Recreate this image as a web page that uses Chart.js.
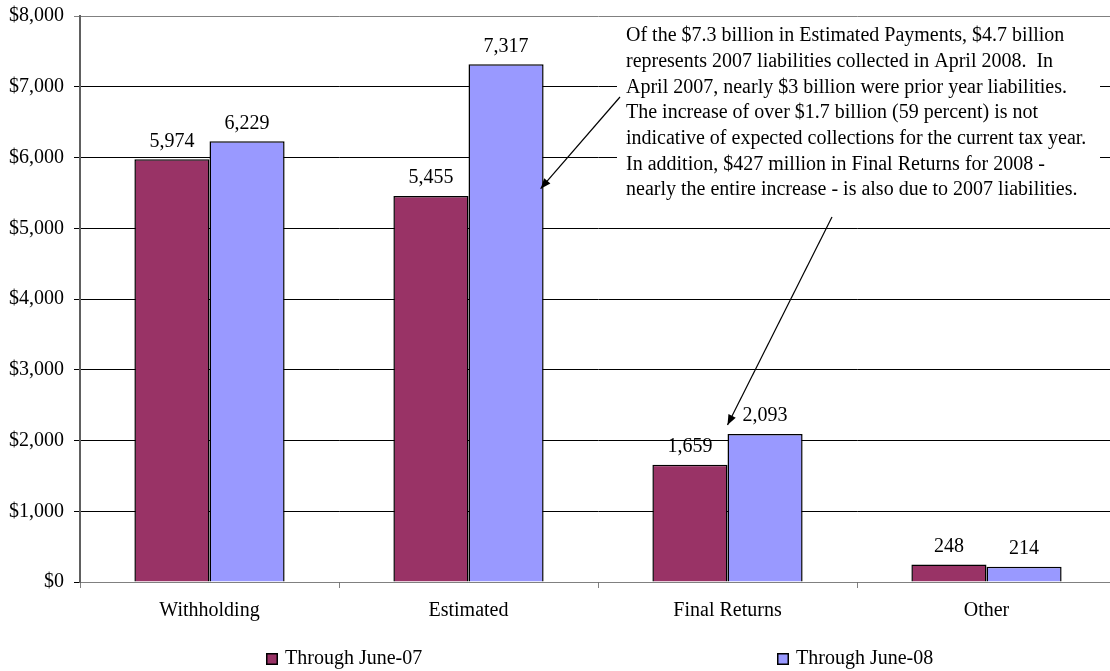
<!DOCTYPE html>
<html lang="en">
<head>
<meta charset="UTF-8">
<title>Withholding, Estimated, Final Returns, Other</title>
<script src="https://cdn.jsdelivr.net/npm/chart.js"></script>
<style>
  html, body { margin: 0; padding: 0; background: #fff; overflow: hidden; }
  #wrap { width: 1116px; height: 671px; }
</style>
</head>
<body>
<div id="wrap"><canvas id="myChart" width="1116" height="671"></canvas></div>
<script>
// data
const categories = ['Withholding', 'Estimated', 'Final Returns', 'Other'];
const june07 = [5974, 5455, 1659, 248];
const june08 = [6229, 7317, 2093, 214];
const seriesNames = ['Through June-07', 'Through June-08'];
const yTicks = [0, 1000, 2000, 3000, 4000, 5000, 6000, 7000, 8000];
const noteLines = [
  'Of the $7.3 billion in Estimated Payments, $4.7 billion',
  'represents 2007 liabilities collected in April 2008.  In',
  'April 2007, nearly $3 billion were prior year liabilities.',
  'The increase of over $1.7 billion (59 percent) is not',
  'indicative of expected collections for the current tax year.',
  'In addition, $427 million in Final Returns for 2008 -',
  'nearly the entire increase - is also due to 2007 liabilities.'
];

const serif = '"Liberation Serif", "Times New Roman", serif';
const colors = ['#993366', '#9999FF'];

function fmt(v) {
  return v.toLocaleString('en-US');
}

function arrow(ctx, x1, y1, x2, y2) {
  ctx.beginPath();
  ctx.moveTo(x1, y1);
  ctx.lineTo(x2, y2);
  ctx.stroke();
  const a = Math.atan2(y2 - y1, x2 - x1);
  const len = 11, w = 0.38;
  ctx.beginPath();
  ctx.moveTo(x2, y2);
  ctx.lineTo(x2 - len * Math.cos(a - w), y2 - len * Math.sin(a - w));
  ctx.lineTo(x2 - len * Math.cos(a + w), y2 - len * Math.sin(a + w));
  ctx.closePath();
  ctx.fill();
}

// value labels, note box, arrows and legend
const extras = {
  id: 'extras',
  afterDatasetsDraw(chart) {
    const ctx = chart.ctx;
    ctx.save();
    ctx.fillStyle = '#000';
    ctx.font = '20px ' + serif;
    ctx.textAlign = 'center';
    ctx.textBaseline = 'middle';
    chart.data.datasets.forEach((ds, i) => {
      chart.getDatasetMeta(i).data.forEach((bar, j) => {
        ctx.fillText(fmt(ds.data[j]), bar.x, bar.y - 18);
      });
    });

    // note box (white, covers gridlines)
    ctx.fillStyle = '#fff';
    ctx.fillRect(617, 22, 483, 190);
    ctx.fillStyle = '#000';
    ctx.textAlign = 'left';
    noteLines.forEach((t, k) => {
      ctx.fillText(t, 626, 36 + k * 25.7);
    });

    // arrows pointing at the Estimated and Final Returns bars
    const y = chart.scales.y;
    const m1 = chart.getDatasetMeta(1).data;
    ctx.strokeStyle = '#000';
    ctx.lineWidth = 1.2;
    arrow(ctx, 620, 97, m1[1].x + m1[1].width / 2 - 3, y.getPixelForValue(5560));
    arrow(ctx, 832, 217, m1[2].x - m1[2].width / 2, y.getPixelForValue(2220));

    // legend
    const lx = [266, 777];
    seriesNames.forEach((name, k) => {
      ctx.fillStyle = colors[k];
      ctx.fillRect(lx[k], 653, 12, 12);
      ctx.strokeStyle = '#000';
      ctx.lineWidth = 1.5;
      ctx.strokeRect(lx[k] + 0.75, 653.75, 10.5, 10.5);
      ctx.fillStyle = '#000';
      ctx.fillText(name, lx[k] + 19, 659);
    });
    ctx.restore();
  }
};

const data = {
  labels: categories,
  datasets: [
    { label: seriesNames[0], data: june07, backgroundColor: colors[0], borderColor: '#000', borderWidth: 1.5 },
    { label: seriesNames[1], data: june08, backgroundColor: colors[1], borderColor: '#000', borderWidth: 1.5 }
  ]
};

const config = {
  type: 'bar',
  data: data,
  plugins: [extras],
  options: {
    responsive: false,
    animation: false,
    categoryPercentage: 0.58,
    barPercentage: 1.0,
    layout: { padding: { top: 16, right: 0, left: 0, bottom: 0 } },
    plugins: {
      legend: { display: false },
      tooltip: { enabled: false }
    },
    scales: {
      x: {
        afterFit(s) { s.height = 89; s.paddingLeft = 0; s.paddingRight = 0; },
        grid: {
          offset: true,
          drawOnChartArea: false,
          tickLength: 6,
          color: '#808080'
        },
        border: { color: '#808080', width: 1 },
        ticks: {
          color: '#000',
          font: { family: serif, size: 20 },
          padding: 11
        }
      },
      y: {
        min: 0,
        max: 8000,
        afterFit(s) { s.width = 80; s.paddingTop = 0; s.paddingBottom = 0; },
        afterBuildTicks(s) { s.ticks = yTicks.map(v => ({ value: v })); },
        grid: {
          color: ctx => (ctx.tick && ctx.tick.value === 8000 ? '#808080' : '#000'),
          tickLength: 6,
          lineWidth: 1
        },
        border: { color: '#606060', width: 2 },
        ticks: {
          color: '#000',
          font: { family: serif, size: 20 },
          padding: 10,
          callback: v => '$' + fmt(v)
        }
      }
    }
  }
};

const myChart = new Chart(document.getElementById('myChart'), config);
</script>
</body>
</html>
